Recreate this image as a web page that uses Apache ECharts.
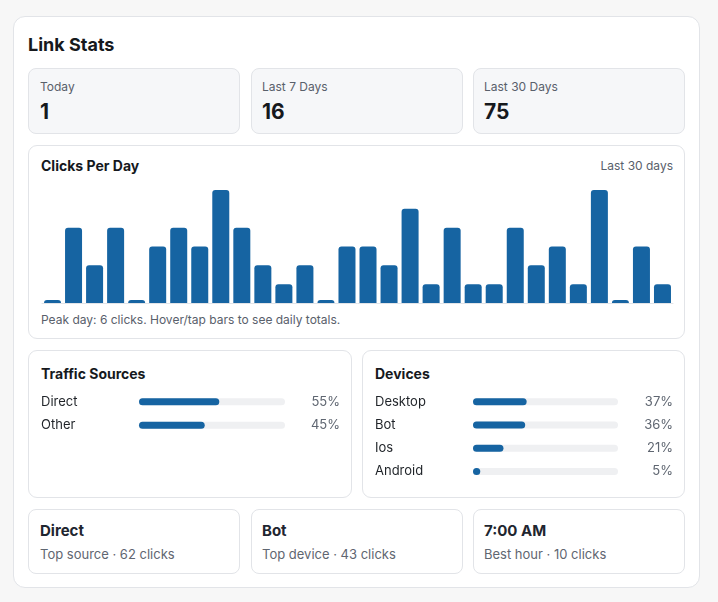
<!DOCTYPE html>
<html>
<head>
<meta charset="utf-8">
<title>Link Stats</title>
<script src="https://cdn.jsdelivr.net/npm/echarts@6/dist/echarts.min.js"></script>
<style>
  html, body { margin: 0; padding: 0; }
  body {
    width: 718px; height: 602px; position: relative; overflow: hidden;
    background: #f7f7f7;
    font-family: Inter, "Noto Sans", sans-serif;
    color: #16191d;
  }
  .box { position: absolute; box-sizing: border-box; border: 1px solid #e2e4e8; }
  .outer { left: 13px; top: 16px; width: 687px; height: 572px; border-radius: 12px; background: #fff; }
  .stat { top: 68px; width: 212px; height: 66px; border-radius: 8px; background: #f6f7f9; }
  .panel { border-radius: 9px; background: #fff; }
  .mini { top: 509px; width: 212px; height: 65px; border-radius: 8px; background: #fff; }
  .t { position: absolute; line-height: 1; white-space: nowrap; }
  .h1 { font-size: 18px; font-weight: 700; }
  .lbl { font-size: 12px; color: #59606b; }
  .val { font-size: 21px; font-weight: 700; }
  .h2 { font-size: 14px; font-weight: 700; }
  .h3 { font-size: 15px; font-weight: 700; color: #1f2630; }
  .sub { font-size: 13px; color: #5f6671; }
  .chart { position: absolute; }
</style>
</head>
<body>
<div class="box outer"></div>
<div class="t h1" style="left:28px;top:36px">Link Stats</div>

<div class="box stat" style="left:28px"></div>
<div class="box stat" style="left:251px"></div>
<div class="box stat" style="left:473px"></div>
<div class="t lbl" style="left:40px;top:81px">Today</div>
<div class="t lbl" style="left:262px;top:81px">Last 7 Days</div>
<div class="t lbl" style="left:484px;top:81px">Last 30 Days</div>
<div class="t val" id="v-today" style="left:40px;top:101px"></div>
<div class="t val" id="v-week" style="left:262px;top:101px"></div>
<div class="t val" id="v-month" style="left:484px;top:101px"></div>

<div class="box panel" style="left:28px;top:145px;width:657px;height:194px"></div>
<div class="t h2" style="left:41px;top:159px">Clicks Per Day</div>
<div class="t lbl" style="right:45px;top:160px">Last 30 days</div>
<div class="chart" id="clicks" style="left:29px;top:180px;width:655px;height:130px"></div>
<div class="t lbl" id="peak" style="left:41px;top:314px"></div>

<div class="box panel" style="left:28px;top:350px;width:324px;height:148px"></div>
<div class="t h2" style="left:41px;top:367px">Traffic Sources</div>
<div class="chart" id="sources" style="left:29px;top:390px;width:322px;height:47px"></div>

<div class="box panel" style="left:362px;top:350px;width:323px;height:148px"></div>
<div class="t h2" style="left:375px;top:367px">Devices</div>
<div class="chart" id="devices" style="left:363px;top:390px;width:321px;height:93px"></div>

<div class="box mini" style="left:28px"></div>
<div class="box mini" style="left:251px"></div>
<div class="box mini" style="left:473px"></div>
<div class="t h3" style="left:40px;top:523px">Direct</div>
<div class="t h3" style="left:262px;top:523px">Bot</div>
<div class="t h3" style="left:484px;top:523px">7:00 AM</div>
<div class="t sub" style="left:40px;top:548px">Top source · 62 clicks</div>
<div class="t sub" style="left:262px;top:548px">Top device · 43 clicks</div>
<div class="t sub" style="left:484px;top:548px">Best hour · 10 clicks</div>

<script>
// clicks for the last 30 days, oldest first
const dailyClicks = [0, 4, 2, 4, 0, 3, 4, 3, 6, 4, 2, 1, 2, 0, 3, 3, 2, 5, 1, 4, 1, 1, 4, 2, 3, 1, 6, 0, 3, 1];
const dayIndex = dailyClicks.map((_, i) => 'Day ' + (i + 1));

const sourceNames = ['Direct', 'Other'];
const sourceShare = [55, 45];

const deviceNames = ['Desktop', 'Bot', 'Ios', 'Android'];
const deviceShare = [37, 36, 21, 5];

const BLUE = '#1664a2';

const sum = arr => arr.reduce((a, b) => a + b, 0);
document.getElementById('v-today').textContent = dailyClicks[dailyClicks.length - 1];
document.getElementById('v-week').textContent = sum(dailyClicks.slice(-7));
document.getElementById('v-month').textContent = sum(dailyClicks);
document.getElementById('peak').textContent =
    'Peak day: ' + Math.max(...dailyClicks) + ' clicks. Hover/tap bars to see daily totals.';

// bar chart of clicks per day
const clicksChart = echarts.init(document.getElementById('clicks'));
clicksChart.setOption({
    animation: false,
    tooltip: { trigger: 'axis', axisPointer: { type: 'none' } },
    grid: { left: 13, right: 11, top: 10, bottom: 7 },
    xAxis: {
        type: 'category',
        data: dayIndex,
        axisLine: { lineStyle: { color: '#e2e4e8', width: 1 } },
        axisTick: { show: false },
        axisLabel: { show: false }
    },
    yAxis: { type: 'value', min: 0, max: 6, show: false, splitLine: { show: false } },
    series: [{
        type: 'bar',
        data: dailyClicks,
        barWidth: 17,
        barMinHeight: 3,
        itemStyle: { color: BLUE, borderRadius: [3, 3, 0, 0] }
    }]
});

// horizontal share bars with labels left and percentages right
function shareChart(el, names, shares) {
    const chart = echarts.init(document.getElementById(el));
    chart.setOption({
        animation: false,
        grid: { left: 110, right: 66, top: 0, bottom: 0 },
        xAxis: { type: 'value', min: 0, max: 100, show: false },
        yAxis: [{
            type: 'category',
            data: names,
            inverse: true,
            axisLine: { show: false },
            axisTick: { show: false },
            axisLabel: { align: 'left', margin: 98, fontSize: 13, color: '#1f2328', fontFamily: 'Inter' }
        }, {
            type: 'category',
            position: 'right',
            data: names,
            inverse: true,
            axisLine: { show: false },
            axisTick: { show: false },
            axisLabel: {
                align: 'right', margin: 55, fontSize: 13, color: '#5f6671', fontFamily: 'Inter',
                formatter: (v, i) => shares[i] + '%'
            }
        }],
        series: [{
            type: 'bar',
            data: shares,
            barWidth: 7,
            showBackground: true,
            backgroundStyle: { color: '#eff0f2', borderRadius: 4 },
            itemStyle: { color: BLUE, borderRadius: 4 }
        }]
    });
    return chart;
}

shareChart('sources', sourceNames, sourceShare);
shareChart('devices', deviceNames, deviceShare);
</script>
</body>
</html>
